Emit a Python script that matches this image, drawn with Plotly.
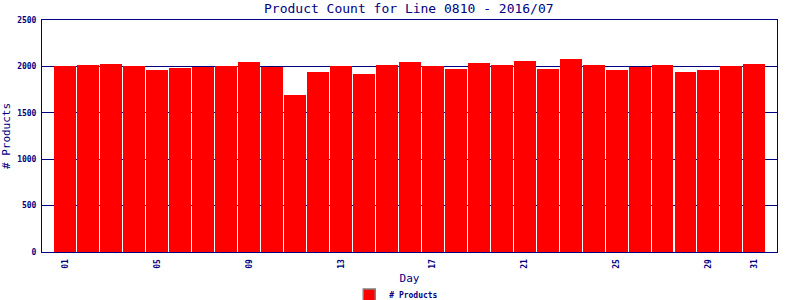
import plotly.graph_objects as go

days = list(range(1, 32))
counts = [2000, 2015, 2026, 2004, 1961, 1983, 1997, 2004, 2047, 1997,
          1692, 1940, 2004, 1918, 2015, 2047, 2004, 1972, 2037, 2015,
          2058, 1972, 2080, 2015, 1961, 1994, 2015, 1940, 1961, 2004, 2026]
tick_days = [1, 5, 9, 13, 17, 21, 25, 29, 31]
tick_labels = ["01", "05", "09", "13", "17", "21", "25", "29", "31"]
y_ticks = [0, 500, 1000, 1500, 2000, 2500]

NAVY = "#000080"
MONO = "DejaVu Sans Mono"

fig = go.Figure()
fig.add_trace(go.Bar(
    x=days, y=counts, width=0.955,
    marker=dict(color="#FF0000", line=dict(width=0)),
    name="# Products", showlegend=False,
))
# legend entry (grey-bordered swatch)
fig.add_trace(go.Bar(
    x=[None], y=[None], name="# Products",
    marker=dict(color="#FF0000", line=dict(color="#808080", width=1.5)),
    showlegend=True,
))

fig.update_layout(
    width=800, height=300,
    margin=dict(l=42, r=23, t=20, b=48, autoexpand=False),
    paper_bgcolor="white", plot_bgcolor="white",
    title=dict(text="Product Count for Line 0810 - 2016/07",
               font=dict(family=MONO, size=13, color=NAVY),
               x=0.511, xanchor="center", y=0.973, yanchor="middle"),
    showlegend=True,
    legend=dict(orientation="h", x=0.482, xanchor="center", y=-0.185, yanchor="middle",
                font=dict(family=MONO, size=8, color=NAVY, weight="bold"),
                itemwidth=30, bgcolor="rgba(0,0,0,0)"),
    bargap=0,
)
fig.update_xaxes(
    range=[-0.015, 31.985], tickmode="array", tickvals=tick_days, ticktext=tick_labels,
    tickangle=-90, tickfont=dict(family=MONO, size=8, color=NAVY, weight="bold"),
    showline=True, linecolor=NAVY, linewidth=1, mirror=True, showgrid=False,
    ticks="outside", ticklen=3, tickcolor="rgba(0,0,0,0)",
    title=dict(text="Day", font=dict(family=MONO, size=11, color=NAVY), standoff=6),
    zeroline=False, automargin=False,
)
fig.update_yaxes(
    range=[0, 2500], tickmode="array", tickvals=y_ticks,
    tickfont=dict(family=MONO, size=8, color=NAVY, weight="bold"),
    showline=True, linecolor=NAVY, linewidth=1, mirror=True,
    showgrid=True, gridcolor=NAVY, gridwidth=1,
    ticks="outside", ticklen=3, tickcolor="rgba(0,0,0,0)",
    title=dict(text="# Products", font=dict(family=MONO, size=11, color=NAVY), standoff=4),
    zeroline=False, automargin=False,
)

fig.write_html("out.html")
